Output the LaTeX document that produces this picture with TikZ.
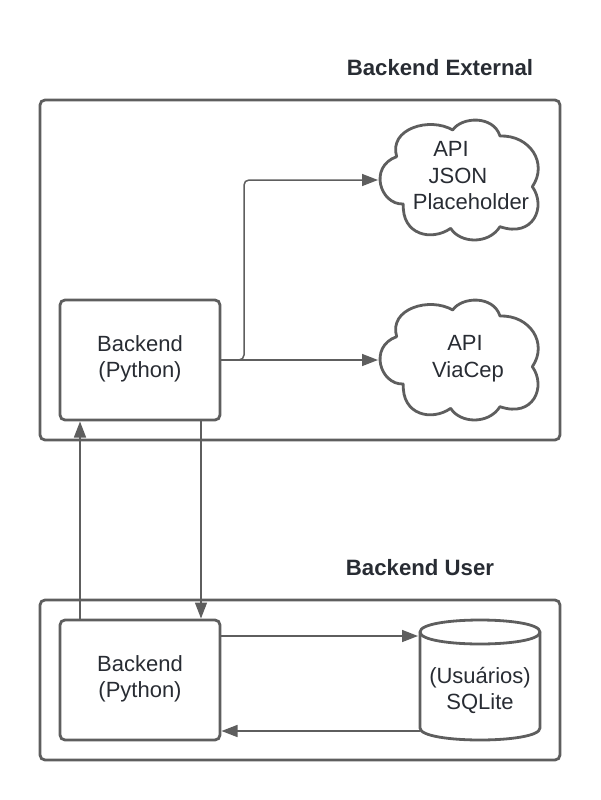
\documentclass[tikz,border=0pt]{standalone}
\usepackage{fontspec}
\setmainfont{Liberation Sans}
\usetikzlibrary{arrows.meta}
\definecolor{ln}{HTML}{5E5E5E}
\definecolor{tx}{HTML}{282C33}
\tikzset{
  x=1pt,y=-1pt,
  box/.style={draw=ln,line width=2.8pt,rounded corners=5pt},
  conn/.style={draw=ln,line width=1.5pt,-{Triangle[length=16pt,width=12pt]}},
  lab/.style={text=tx,font=\fontsize{22}{26}\selectfont,inner sep=0pt,anchor=base},
  ttl/.style={text=tx,font=\fontsize{22.2}{26}\selectfont\bfseries,inner sep=0pt,anchor=base},
  cloudline/.style={draw=ln,line width=2.8pt,line join=round}
}
\newcommand{\cloudshape}[2]{%
  \begin{scope}[shift={(#1,#2)},x=0.33333pt,y=-0.33333pt]
  \draw[cloudline]
    (110,140) .. controls (85,55) and (210,20) .. (278,60)
    .. controls (305,20) and (400,15) .. (420,78)
    .. controls (510,75) and (565,160) .. (517,230)
    .. controls (560,290) and (520,385) .. (420,350)
    .. controls (385,405) and (300,400) .. (272,355)
    .. controls (215,395) and (125,375) .. (130,282)
    .. controls (60,285) and (25,170) .. (110,140) -- cycle;
  \end{scope}}
\begin{document}
\begin{tikzpicture}
\useasboundingbox (0,0) rectangle (600,800);
\node[inner sep=0pt,minimum width=520pt,minimum height=340pt,box] (outerA) at (300,270) {};
\node[inner sep=0pt,minimum width=520pt,minimum height=160pt,box] (outerB) at (300,680) {};
\node[inner sep=0pt,minimum width=160pt,minimum height=120pt,box] (backA) at (140,360) {};
\node[inner sep=0pt,minimum width=160pt,minimum height=120pt,box] (backB) at (140,680) {};
\node[lab] (backAa) at (140,351) {Backend};
\node[lab] (backAb) at (140,377) {(Python)};
\node[lab] (backBa) at (140,671) {Backend};
\node[lab] (backBb) at (140,697) {(Python)};
\node[ttl] (titleA) at (440,75) {Backend External};
\node[ttl] (titleB) at (420,575) {Backend User};
\cloudshape{360}{110}
\cloudshape{360}{290}
\node[lab] (apiA) at (451,156) {API};
\node[lab] (jsonA) at (458,183) {JSON};
\node[lab] (phA) at (471,209) {Placeholder};
\node[lab] (apiB) at (465,350) {API};
\node[lab] (viaB) at (468,377) {ViaCep};
\coordinate (cloudA) at (378,180);
\coordinate (cloudB) at (378,360);
% cylinder
\draw[draw=ln,line width=2.8pt,line join=round] (420,632)
  .. controls (420,616) and (540,616) .. (540,632)
  -- (540,728) .. controls (540,744) and (420,744) .. (420,728) -- cycle;
\draw[cloudline] (420,632) .. controls (420,648) and (540,648) .. (540,632);
\coordinate (cylIn) at (418,636);
\coordinate (cylOut) at (420,731);
\node[lab] (cylA) at (480,683) {(Usuários)};
\node[lab] (cylB) at (480,709) {SQLite};
% connectors
\coordinate (outA) at (backA.east);
\draw[conn] (outA) -- (cloudB);
\draw[conn,rounded corners=5pt] (outA) -- (244,360) -- (244,180) -- (cloudA);
\coordinate (upS) at (80,620);
\coordinate (upE) at (80,421.5);
\coordinate (dnS) at (201,420);
\coordinate (dnE) at (201,618.5);
\coordinate (inS) at (220,636);
\coordinate (backIn) at (221.5,731);
\draw[conn] (upS) -- (upE);
\draw[conn] (dnS) -- (dnE);
\draw[conn] (inS) -- (cylIn);
\draw[conn] (cylOut) -- (backIn);
\end{tikzpicture}
\end{document}
